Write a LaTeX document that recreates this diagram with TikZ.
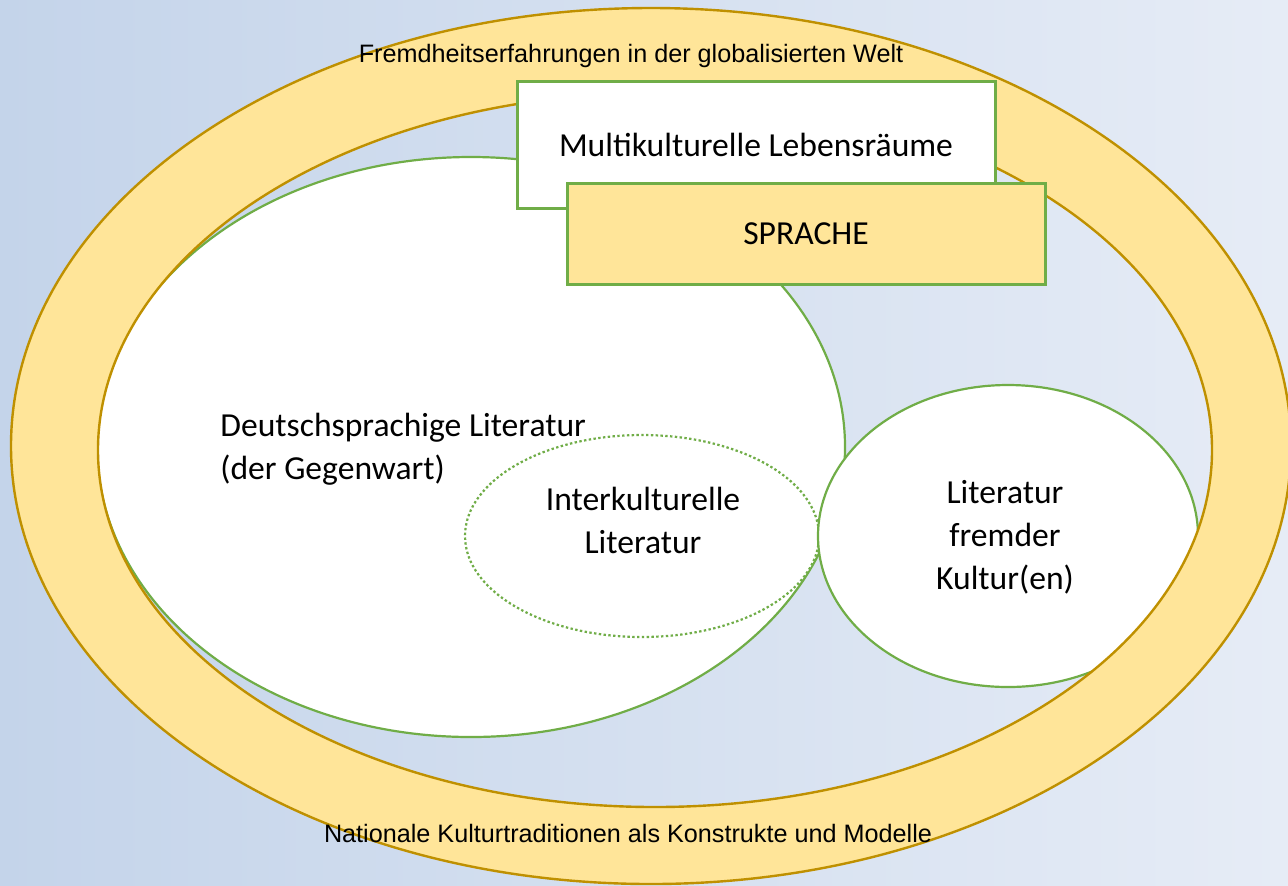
\documentclass[tikz,border=0pt]{standalone}
\usepackage{fontspec}
\setmainfont{Carlito}
\newfontfamily\arialfont{Liberation Sans}
\usepackage{xcolor}
\usepackage{tikz}
\usetikzlibrary{shapes.geometric, positioning}

\definecolor{ringfill}{HTML}{FFE599}
\definecolor{ringline}{HTML}{BF9000}
\definecolor{grass}{HTML}{70AD47}
\definecolor{skyleft}{HTML}{C4D4EA}
\definecolor{skyright}{HTML}{E6ECF6}

\begin{document}
\begin{tikzpicture}[x=0.5pt, y=-0.5pt,
  blob/.style={ellipse, draw=grass, line width=1.1pt, fill=white, inner sep=0pt},
  panel/.style={rectangle, draw=grass, line width=1.5pt, inner sep=0pt, minimum width=239pt},
  bigtext/.style={font=\fontsize{16.8}{21.5}\selectfont, inner sep=0pt},
  ringtext/.style={font=\arialfont\fontsize{12.6}{14}\selectfont, inner sep=0pt, anchor=base}]
\useasboundingbox (0,0) rectangle (1288,885);
\shade[left color=skyleft, right color=skyright] (0,0) rectangle (1288,885);

\node[blob, minimum width=374pt, minimum height=290pt] (deutsch) at (471,447) {};
\node[blob, dash pattern=on 1.2pt off 1.2pt, minimum width=177pt, minimum height=101pt] (inter) at (642,536) {};
\node[blob, minimum width=190pt, minimum height=151pt] (fremd) at (1008,536) {};

\fill[ringfill, even odd rule] (651,446) ellipse [x radius=320pt, y radius=219pt]
  (655,450) ellipse [x radius=278.5pt, y radius=178.5pt];
\draw[ringline, line width=1.2pt] (651,446) ellipse [x radius=320pt, y radius=219pt];
\draw[ringline, line width=1.2pt] (655,450) ellipse [x radius=278.5pt, y radius=178.5pt];

\node[panel, fill=white, minimum height=63.5pt, bigtext] (multi) at (756,144.5) {Multikulturelle Lebensräume};
\node[panel, fill=ringfill, minimum height=50.5pt, bigtext] (sprache) at (806,233.5) {SPRACHE};

\node[bigtext, align=left, anchor=west] (deutschtext) at (220,449) {Deutschsprachige Literatur\\(der Gegenwart)};
\node[bigtext, align=center] (intertext) at (643,520) {Interkulturelle\\Literatur};
\node[bigtext, align=center] (fremdtext) at (1005,537) {Literatur\\fremder\\Kultur(en)};

\node[ringtext] (welt) at (631,62) {Fremdheitserfahrungen in der globalisierten Welt};
\node[ringtext] (nation) at (628,842) {Nationale Kulturtraditionen als Konstrukte und Modelle};
\end{tikzpicture}
\end{document}
